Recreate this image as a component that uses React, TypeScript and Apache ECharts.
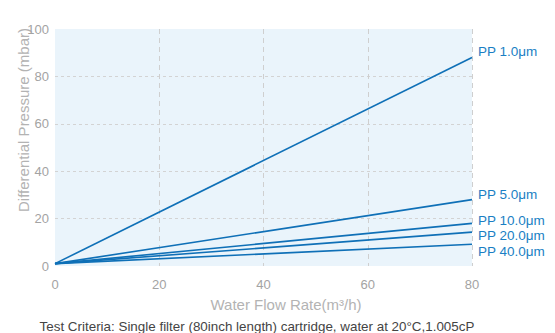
import React, { useEffect, useRef } from "react";
import * as echarts from "echarts";

const flowRates = [0, 80];
const seriesNames = ["PP 1.0μm", "PP 5.0μm", "PP 10.0μm", "PP 20.0μm", "PP 40.0μm"];
const pp1 = [1, 88];
const pp5 = [1, 28];
const pp10 = [1, 18];
const pp20 = [1, 14.3];
const pp40 = [1, 9.2];
const labelShifts = [-6, -5, -3, 3, 7.5];
const yAxisName = "Differential Pressure (mbar)";
const xAxisName = "Water Flow Rate(m³/h)";
const caption = "Test Criteria: Single filter (80inch length) cartridge, water at 20°C,1.005cP";

const FONT = "'Liberation Sans', Arial, Helvetica, sans-serif";
const LINE = "#0f70b7";
const LABEL = "#1a7fc4";

export default function App() {
  const ref = useRef<HTMLDivElement>(null);
  useEffect(() => {
    if (!ref.current) return;
    const chart = echarts.init(ref.current, undefined, { renderer: "svg" });
    const all = [pp1, pp5, pp10, pp20, pp40];
    chart.setOption({
      animation: false,
      textStyle: { fontFamily: FONT },
      grid: {
        left: 55,
        right: 83,
        top: 29,
        bottom: 67,
        show: true,
        backgroundColor: "#eaf4fb",
        borderWidth: 0,
      },
      xAxis: {
        type: "value",
        min: 0,
        max: 80,
        interval: 20,
        axisLine: { show: false },
        axisTick: { show: false },
        axisLabel: { color: "#a3a3a3", fontSize: 13, margin: 12, fontFamily: FONT },
        splitLine: {
          show: true,
          showMinLine: false,
          showMaxLine: true,
          lineStyle: { color: "#cfcfcf", type: [5, 4], width: 1 },
        },
      },
      yAxis: {
        type: "value",
        min: 0,
        max: 100,
        interval: 20,
        axisLine: { show: false },
        axisTick: { show: false },
        axisLabel: { color: "#a3a3a3", fontSize: 13, margin: 6, fontFamily: FONT },
        splitLine: {
          show: true,
          showMinLine: false,
          showMaxLine: false,
          lineStyle: { color: "#d3d3d3", type: [3, 3], width: 1 },
        },
      },
      graphic: [
        {
          type: "text",
          x: 23,
          y: 120,
          rotation: Math.PI / 2,
          style: {
            text: yAxisName,
            fill: "#b3b3b3",
            fontSize: 15,
            fontFamily: FONT,
            align: "center",
            verticalAlign: "middle",
          },
        },
        {
          type: "text",
          x: 286,
          y: 304,
          style: {
            text: xAxisName,
            fill: "#b3b3b3",
            fontSize: 15,
            fontFamily: FONT,
            align: "center",
            verticalAlign: "middle",
          },
        },
        {
          type: "text",
          x: 257,
          y: 326,
          style: {
            text: caption,
            fill: "#444444",
            fontSize: 13.4,
            fontFamily: FONT,
            align: "center",
            verticalAlign: "middle",
          },
        },
      ],
      series: all.map((vals, i) => ({
        name: seriesNames[i],
        type: "line",
        data: flowRates.map((x, j) => [x, vals[j]]),
        symbol: "none",
        lineStyle: { color: LINE, width: 1.6 },
        endLabel: {
          show: true,
          formatter: seriesNames[i],
          color: LABEL,
          fontSize: 13.5,
          fontFamily: FONT,
          distance: 6,
          offset: [0, labelShifts[i]],
        },
      })),
    });
    return () => chart.dispose();
  }, []);
  return <div ref={ref} style={{ width: 555, height: 333, position: "absolute", left: 0, top: 0 }} />;
}
